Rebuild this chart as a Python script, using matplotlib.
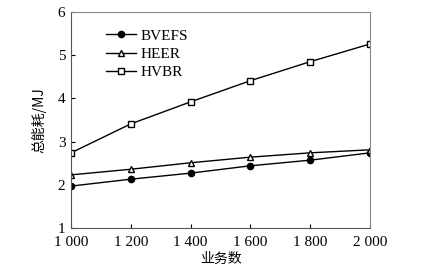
import matplotlib
matplotlib.use("Agg")
import matplotlib.pyplot as plt

x = [1000, 1200, 1400, 1600, 1800, 2000]
bvefs = [1.97, 2.13, 2.27, 2.44, 2.57, 2.74]
heer = [2.23, 2.36, 2.51, 2.64, 2.74, 2.81]
hvbr = [2.74, 3.41, 3.92, 4.41, 4.85, 5.26]
xtick_labels = ["1 000", "1 200", "1 400", "1 600", "1 800", "2 000"]
yticks = [1, 2, 3, 4, 5, 6]

serif = ["Liberation Serif", "DejaVu Serif"]
cjk = ["Noto Sans CJK SC", "DejaVu Sans"]

fig = plt.figure(figsize=(4.29, 2.71), dpi=100)
ax = fig.add_axes([0.1655, 0.1587, 0.697, 0.797])

ax.plot(x, bvefs, color="black", lw=1.0, marker="o", ms=4.5, mfc="black", mec="black", label="BVEFS")
ax.plot(x, heer, color="black", lw=1.0, marker="^", ms=4.5, mfc="white", mec="black", label="HEER")
ax.plot(x, hvbr, color="black", lw=1.0, marker="s", ms=4.5, mfc="white", mec="black", label="HVBR")

ax.set_xlim(1000, 2000)
ax.set_ylim(1, 6)
ax.set_xticks(x)
ax.set_xticklabels(xtick_labels, fontfamily=serif, fontsize=11)
ax.set_yticks(yticks)
ax.set_yticklabels([str(v) for v in yticks], fontfamily=serif, fontsize=11)
ax.tick_params(direction="in", length=3, width=0.8)
ax.tick_params(axis="x", pad=6)
ax.tick_params(axis="y", pad=4)

for s in ["left", "bottom"]:
    ax.spines[s].set_color("#555555")
for s in ["top", "right"]:
    ax.spines[s].set_color("#888888")

ax.set_xlabel("业务数", fontfamily=cjk, fontsize=10, labelpad=2)
ax.set_ylabel("总能耗/MJ", fontfamily=cjk, fontsize=10, labelpad=8)

leg = ax.legend(loc="upper left", bbox_to_anchor=(0.07, 0.985), frameon=False,
                prop={"family": serif, "size": 11}, handlelength=2.0,
                handletextpad=0.3, labelspacing=0.3)

fig.savefig("out.png", dpi=100)
